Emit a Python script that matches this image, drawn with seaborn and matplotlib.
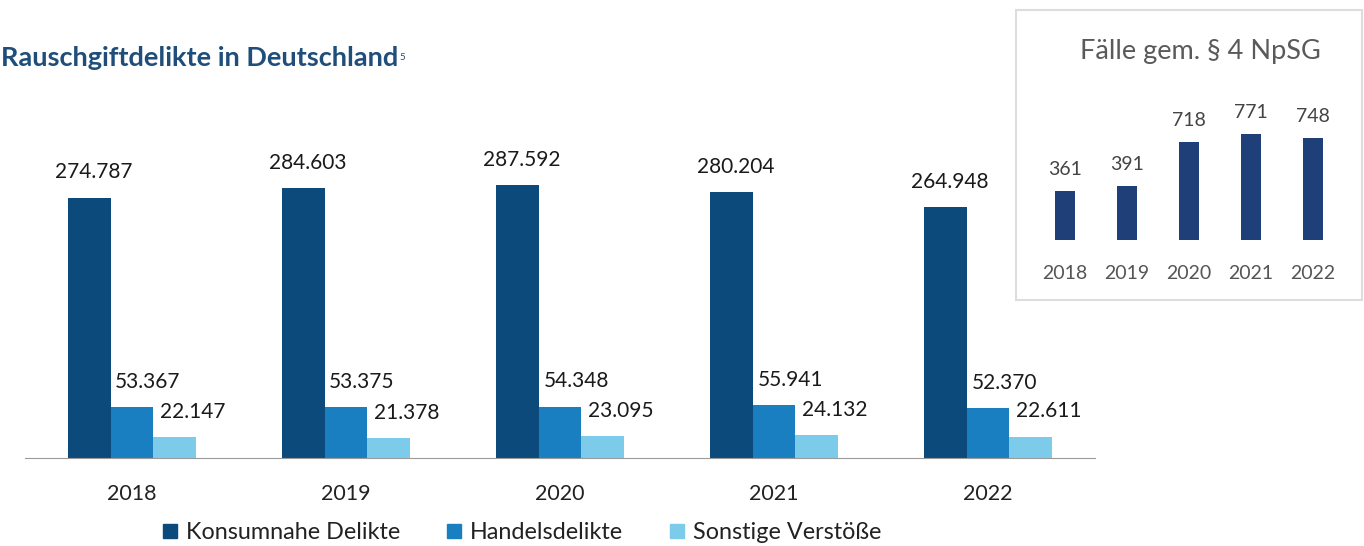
import matplotlib
matplotlib.use("Agg")
import matplotlib.pyplot as plt
from matplotlib.lines import Line2D
from matplotlib.patches import Rectangle
import seaborn as sns
import pandas as pd

# Data
years = ["2018", "2019", "2020", "2021", "2022"]
konsum = [274787, 284603, 287592, 280204, 264948]
handel = [53367, 53375, 54348, 55941, 52370]
sonstige = [22147, 21378, 23095, 24132, 22611]
series = ["Konsumnahe Delikte", "Handelsdelikte", "Sonstige Verstöße"]
npsg = [361, 391, 718, 771, 748]

colors = ["#0b4a7a", "#1a7fc0", "#7ccbea"]
inset_color = "#1f3f78"

df = pd.DataFrame({
    "Jahr": years * 3,
    "Art": [series[0]] * 5 + [series[1]] * 5 + [series[2]] * 5,
    "Fälle": konsum + handel + sonstige,
})
df_npsg = pd.DataFrame({"Jahr": years, "Fälle": npsg})

sns.set_style("white")
plt.rcParams["font.family"] = ["Lato", "DejaVu Sans"]

fig = plt.figure(figsize=(13.64, 5.46), dpi=100)

# Main chart
ax = fig.add_axes([0.0183, 0.161, 0.7845, 0.573])
ax.patch.set_alpha(0)
sns.barplot(data=df, x="Jahr", y="Fälle", hue="Art", palette=colors,
            width=0.6, gap=0, saturation=1, linewidth=0, ax=ax, legend=False)
ax.set_ylim(0, 330000)
ax.set_xlim(-0.5, 4.5)
for s in ["top", "right", "left"]:
    ax.spines[s].set_visible(False)
ax.spines["bottom"].set_color("#9a9a9a")
ax.set_yticks([])
ax.set_xlabel("")
ax.set_ylabel("")
ax.tick_params(axis="x", length=0, labelsize=15.5, pad=19, labelcolor="#222222")
# little separator ticks between the categories
ax.set_xticks([x - 0.5 for x in range(6)], minor=True)
ax.tick_params(axis="x", which="minor", length=5, color="#9a9a9a", direction="out")

# label offsets in data units (x: category units, y: values)
offsets = [(0.02, 16000), (0.075, 16000), (0.085, 16000)]
for cont, (dx, dy) in zip(ax.containers, offsets):
    for bar in cont:
        h = bar.get_height()
        ax.text(bar.get_x() + bar.get_width() / 2 + dx, h + dy,
                f"{int(h):,}".replace(",", "."),
                ha="center", va="bottom", fontsize=15, color="#1a1a1a")

fig.text(0.0005, 0.893, "Rauschgiftdelikte in Deutschland", fontsize=19.5,
         fontweight="bold", color="#1f4e7a", ha="left", va="center")
fig.text(0.2925, 0.895, "5", fontsize=7, color="#1f4e7a", ha="left", va="center")

handles = [Line2D([0], [0], marker="s", linestyle="", markersize=10,
                  markerfacecolor=c, markeredgecolor=c) for c in colors]
fig.legend(handles, series, loc="center", bbox_to_anchor=(0.382, 0.025),
           ncol=3, frameon=False, fontsize=16.8, handletextpad=0.3,
           columnspacing=1.9, handlelength=0.8, labelcolor="#222222")

# Inset box
fig.patches.append(Rectangle((1016 / 1364, 1 - 300 / 546), 346 / 1364, 290 / 546,
                             transform=fig.transFigure, facecolor="white",
                             edgecolor="#dddddd", linewidth=1.5, zorder=-5))
ax2 = fig.add_axes([1034 / 1364, 306 / 546, 310 / 1364, 137 / 546])
ax2.set_zorder(5)
sns.barplot(data=df_npsg, x="Jahr", y="Fälle", color=inset_color,
            saturation=1, width=0.33, linewidth=0, ax=ax2)
ax2.set_ylim(0, 1000)
ax2.set_xlim(-0.5, 4.5)
ax2.patch.set_alpha(0)
sns.despine(ax=ax2, left=True, bottom=True)
ax2.set_yticks([])
ax2.set_xlabel("")
ax2.set_ylabel("")
ax2.tick_params(axis="x", length=0, labelsize=14, pad=18, labelcolor="#555555")
for bar in ax2.containers[0]:
    h = bar.get_height()
    ax2.text(bar.get_x() + bar.get_width() / 2, h + 95, f"{int(h)}",
             ha="center", va="bottom", fontsize=14, color="#444444")
fig.text(1200 / 1364, 1 - 51 / 546, "Fälle gem. § 4 NpSG", fontsize=19.5,
         color="#5a5a5a", ha="center", va="center")

fig.savefig("out.png", dpi=100)
